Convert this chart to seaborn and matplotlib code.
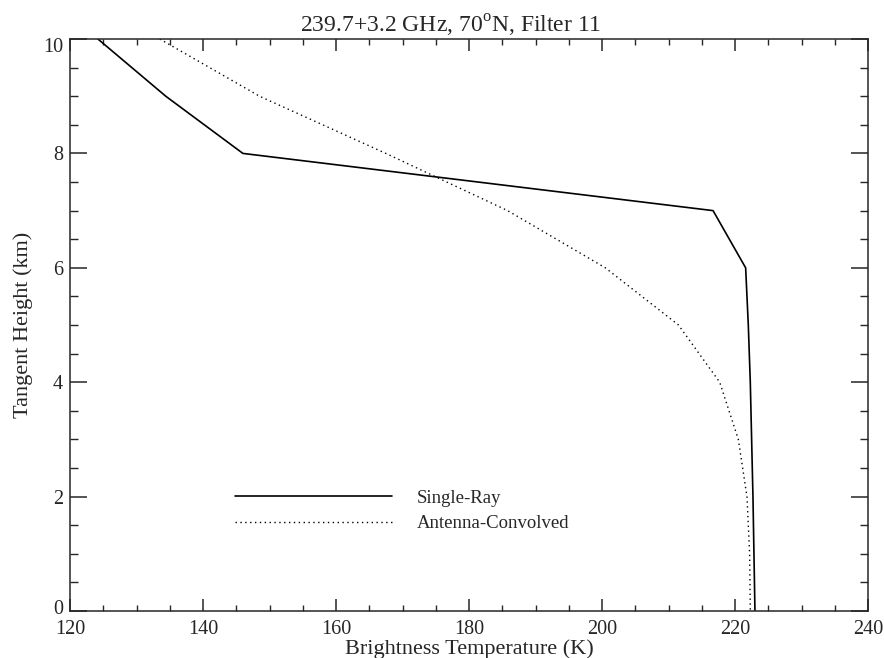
import matplotlib
matplotlib.use("Agg")
import matplotlib.pyplot as plt
import matplotlib.transforms as mtransforms
from matplotlib.ticker import MultipleLocator
import numpy as np
import pandas as pd
import seaborn as sns

# tangent heights (km) and brightness temperatures (K)
height_km = [10, 9, 8, 7, 6, 5, 4, 3, 2, 1, 0]
single_ray = [124.2, 134.4, 146.0, 216.7, 221.6, 222.0, 222.3, 222.5, 222.7, 222.85, 223.0]
antenna_convolved = [133.5, 148.5, 167.5, 185.8, 200.5, 211.5, 217.7, 220.5, 221.8, 222.2, 222.3]

sns.set_style("ticks")
plt.rcParams["font.family"] = ["Liberation Serif", "DejaVu Serif"]
plt.rcParams["mathtext.fontset"] = "custom"
plt.rcParams["mathtext.rm"] = "Liberation Serif"

fig = plt.figure(figsize=(8.84, 6.58), dpi=100)
ax = fig.add_axes([0.0792, 0.0714, 0.9027, 0.8693])

sr = pd.DataFrame({"T": single_ray, "z": height_km})
ac = pd.DataFrame({"T": antenna_convolved, "z": height_km})

sns.lineplot(data=sr, x="T", y="z", sort=False, estimator=None, color="black",
             linewidth=1.2, label="Single-Ray", ax=ax)
sns.lineplot(data=ac, x="T", y="z", sort=False, estimator=None, color="black",
             linewidth=1.0, linestyle=(0, (1, 2.5)), label="Antenna-Convolved", ax=ax)

ax.set_xlim(120, 240)
ax.set_ylim(0, 10)
ax.xaxis.set_major_locator(MultipleLocator(20))
ax.xaxis.set_minor_locator(MultipleLocator(5))
ax.yaxis.set_major_locator(MultipleLocator(2))
ax.yaxis.set_minor_locator(MultipleLocator(0.5))
ax.tick_params(axis="x", which="major", direction="in", length=8.5, width=1.1,
               top=True, labelsize=14.5, pad=6.5)
ax.tick_params(axis="x", which="minor", direction="in", length=4, width=1.0, top=True)
ax.tick_params(axis="y", which="major", direction="in", length=12, width=1.1,
               right=True, labelsize=14.5, pad=5)
ax.tick_params(axis="y", which="minor", direction="in", length=6, width=1.0, right=True)
for s in ax.spines.values():
    s.set_linewidth(1.1)
    s.set_visible(True)

# end labels of the y axis sit a little inside the frame, as in the original
fig.canvas.draw()
shifts = {"0": 4, "10": -6}
for lab in ax.get_yticklabels():
    if lab.get_text() in shifts:
        off = mtransforms.ScaledTranslation(0, shifts[lab.get_text()] / 100, fig.dpi_scale_trans)
        lab.set_transform(lab.get_transform() + off)

ax.set_xlabel("Brightness Temperature (K)", fontsize=16, labelpad=0)
ax.set_ylabel("Tangent Height (km)", fontsize=16, labelpad=7)
ax.set_title(r"239.7+3.2 GHz, 70$^{\mathrm{o}}$N, Filter 11", fontsize=17, pad=4, x=0.477)

ax.legend(loc="center left", bbox_to_anchor=(0.185, 0.175), frameon=False,
          fontsize=13.5, handlelength=8.4, handletextpad=1.3, labelspacing=0.45)

fig.savefig("out.png", dpi=100)
